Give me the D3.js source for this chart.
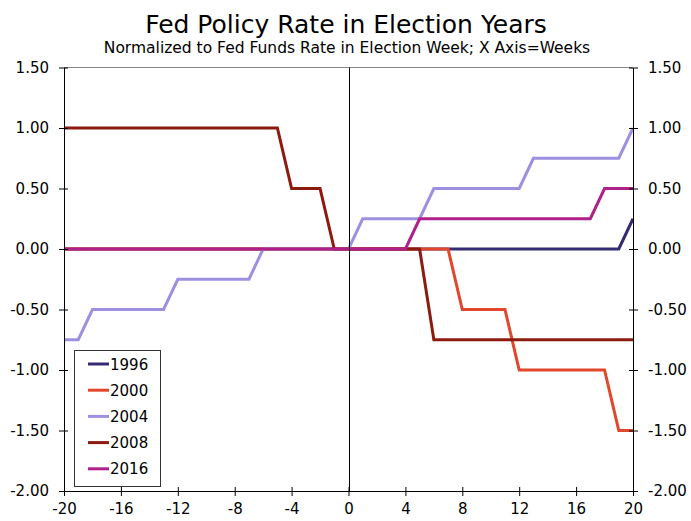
<!DOCTYPE html>
<meta charset="UTF-8">
<script src="https://d3js.org/d3.v7.min.js"></script>
<style>
  body { margin: 0; background: #fff; }
  text { font-family: "DejaVu Sans", Verdana, sans-serif; fill: #000; }
</style>
<body>
<div id="chart"></div>
<script>

// weeks relative to election week
var weeks = [-20,-19,-18,-17,-16,-15,-14,-13,-12,-11,-10,-9,-8,-7,-6,-5,-4,-3,-2,-1,
             0,1,2,3,4,5,6,7,8,9,10,11,12,13,14,15,16,17,18,19,20];

var years = ["1996", "2000", "2004", "2008", "2016"];

var y1996 = [0,0,0,0,0,0,0,0,0,0,0,0,0,0,0,0,0,0,0,0,
             0,0,0,0,0,0,0,0,0,0,0,0,0,0,0,0,0,0,0,0,0.25];
var y2000 = [0,0,0,0,0,0,0,0,0,0,0,0,0,0,0,0,0,0,0,0,
             0,0,0,0,0,0,0,0,-0.5,-0.5,-0.5,-0.5,-1,-1,-1,-1,-1,-1,-1,-1.5,-1.5];
var y2004 = [-0.75,-0.75,-0.5,-0.5,-0.5,-0.5,-0.5,-0.5,-0.25,-0.25,-0.25,-0.25,-0.25,-0.25,0,0,0,0,0,0,
             0,0.25,0.25,0.25,0.25,0.25,0.5,0.5,0.5,0.5,0.5,0.5,0.5,0.75,0.75,0.75,0.75,0.75,0.75,0.75,1];
var y2008 = [1,1,1,1,1,1,1,1,1,1,1,1,1,1,1,1,0.5,0.5,0.5,0,
             0,0,0,0,0,0,-0.75,-0.75,-0.75,-0.75,-0.75,-0.75,-0.75,-0.75,-0.75,-0.75,-0.75,-0.75,-0.75,-0.75,-0.75];
var y2016 = [0,0,0,0,0,0,0,0,0,0,0,0,0,0,0,0,0,0,0,0,
             0,0,0,0,0,0.25,0.25,0.25,0.25,0.25,0.25,0.25,0.25,0.25,0.25,0.25,0.25,0.25,0.5,0.5,0.5];

var colors = ["#332c74", "#e2462c", "#9d90e0", "#8c1a0e", "#b0208a"];

var xTicks = [-20,-16,-12,-8,-4,0,4,8,12,16,20];
var yTicks = [1.5,1,0.5,0,-0.5,-1,-1.5,-2];

var series = [y1996, y2000, y2004, y2008, y2016];

var W = 691, H = 521;
var mLeft = 64, mRight = 633, mTop = 67.5, mBottom = 491;

var svg = d3.select("#chart").append("svg")
  .attr("width", W).attr("height", H);

var x = d3.scaleLinear().domain([-20, 20]).range([mLeft, mRight]);
var y = d3.scaleLinear().domain([-2, 1.5]).range([mBottom, mTop]);

// titles
svg.append("text")
  .attr("x", 346).attr("y", 33)
  .attr("text-anchor", "middle")
  .style("font-size", "25px")
  .text("Fed Policy Rate in Election Years");
svg.append("text")
  .attr("x", 347).attr("y", 53)
  .attr("text-anchor", "middle")
  .style("font-size", "15.5px")
  .text("Normalized to Fed Funds Rate in Election Week; X Axis=Weeks");

// top frame line
svg.append("line")
  .attr("x1", mLeft).attr("x2", mRight)
  .attr("y1", y(1.5)).attr("y2", y(1.5))
  .attr("stroke", "#888").attr("stroke-width", 1);

// series
var line = d3.line()
  .x(function(d, i) { return x(weeks[i]); })
  .y(function(d) { return y(d); });

svg.append("g").selectAll("path")
  .data(series)
  .enter().append("path")
    .attr("d", line)
    .attr("fill", "none")
    .attr("stroke", function(d, i) { return colors[i]; })
    .attr("stroke-width", 3)
    .attr("stroke-linejoin", "miter");

// zero vertical line
svg.append("line")
  .attr("x1", Math.round(x(0)) + 0.5).attr("x2", Math.round(x(0)) + 0.5)
  .attr("y1", mTop).attr("y2", mBottom)
  .attr("stroke", "#000").attr("stroke-width", 1);

// axes
var fmtY = function(d) { return d.toFixed(2); };
var fmtX = function(d) { return String(d); };

var axL = svg.append("g")
  .attr("transform", "translate(" + mLeft + ",0)")
  .call(d3.axisLeft(y).tickValues(yTicks).tickFormat(fmtY).tickSizeInner(5).tickSizeOuter(0).tickPadding(10));
var axR = svg.append("g")
  .attr("transform", "translate(" + mRight + ",0)")
  .call(d3.axisRight(y).tickValues(yTicks).tickFormat(fmtY).tickSizeInner(5).tickSizeOuter(0).tickPadding(10));
var axB = svg.append("g")
  .attr("transform", "translate(0," + mBottom + ")")
  .call(d3.axisBottom(x).tickValues(xTicks).tickFormat(fmtX).tickSizeInner(5).tickSizeOuter(0).tickPadding(10));

// ticks cross the axis lines
axL.selectAll(".tick line").attr("x1", 4);
axR.selectAll(".tick line").attr("x1", -4);
axB.selectAll(".tick line").attr("y1", -4);

[axL, axR, axB].forEach(function(a) {
  a.selectAll("text").style("font-size", "15px").attr("fill", "#000");
  a.selectAll("line, path").attr("stroke", "#000");
});
axB.selectAll("text").attr("y", 12).attr("dy", "0.75em");

// legend
var lg = svg.append("g");
lg.append("rect")
  .attr("x", 74.5).attr("y", 350.5)
  .attr("width", 86).attr("height", 136)
  .attr("fill", "#fff").attr("stroke", "#333").attr("stroke-width", 1);

years.forEach(function(yr, i) {
  var cy = 364 + i * 26.2;
  lg.append("line")
    .attr("x1", 88).attr("x2", 109)
    .attr("y1", cy).attr("y2", cy)
    .attr("stroke", colors[i]).attr("stroke-width", 3);
  lg.append("text")
    .attr("x", 110).attr("y", cy + 5.5)
    .style("font-size", "15px")
    .text(yr);
});

</script>
</body>
